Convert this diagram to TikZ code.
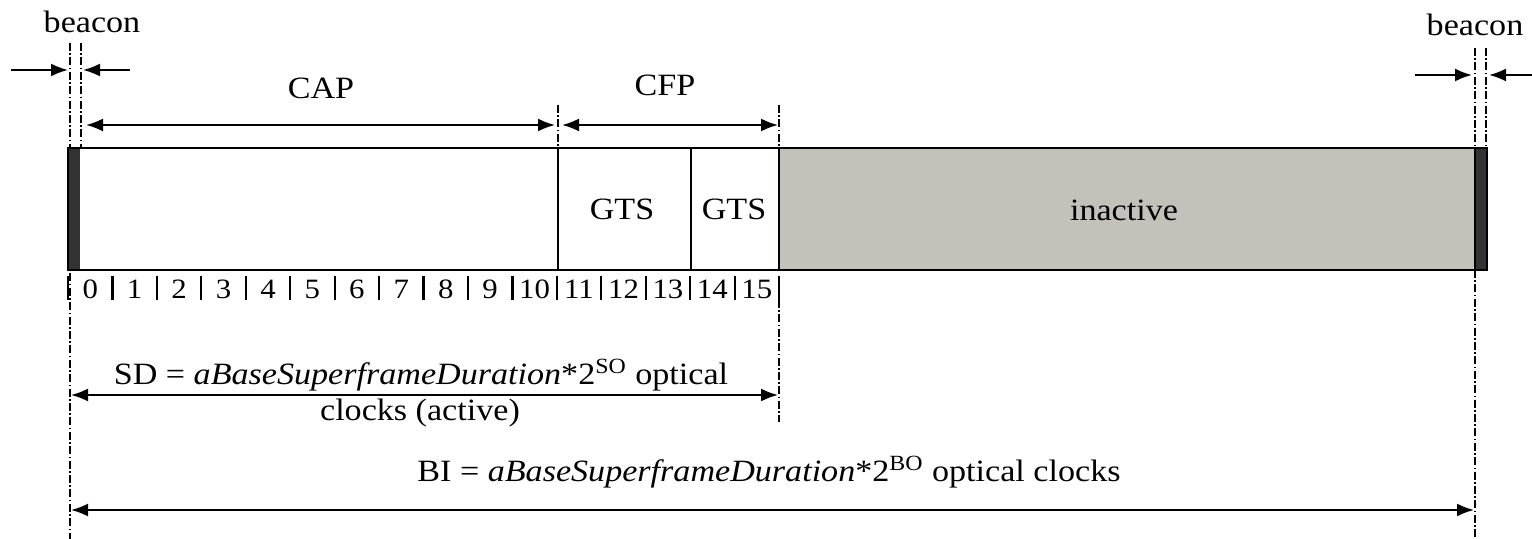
\documentclass[tikz,border=0pt]{standalone}
\usepackage{fontspec}
\setmainfont{Liberation Serif}[FakeStretch=1.1]
\usetikzlibrary{arrows.meta, positioning, calc}

\definecolor{beacongray}{HTML}{333333}
\definecolor{idlegray}{HTML}{C4C1BA}

\tikzset{
  txt/.style={font=\fontsize{15.5}{18}\selectfont, inner sep=0pt},
  numtxt/.style={font=\fontsize{14}{16}\selectfont, inner sep=0pt},
  dimline/.style={line width=1pt, {Latex[length=8.5pt,width=6.5pt]}-{Latex[length=8.5pt,width=6.5pt]}},
  inarrow/.style={line width=1pt, -{Latex[length=8.5pt,width=6.5pt]}},
  guide/.style={line width=0.6pt, dash pattern=on 4pt off 1.2pt on 0.8pt off 1.2pt},
}

\begin{document}
\begin{tikzpicture}[x=0.5pt, y=-0.5pt]
  \useasboundingbox (0,0) rectangle (1532,539);

  % Guide lines
  \draw[guide] (70,43) -- (70,539);
  \draw[guide] (81,43) -- (81,148);
  \draw[guide] (558,105) -- (558,148);
  \draw[guide] (779,105) -- (779,148);
  \draw[guide] (779,300) -- (779,422);
  \draw[guide] (1475,48) -- (1475,148);
  \draw[guide] (1486,48) -- (1486,148);
  \draw[guide] (1475,270) -- (1475,539);

  % Superframe bar
  \fill[beacongray] (68,148) rectangle (80,270);
  \fill[idlegray]   (779,148) rectangle (1475,270);
  \fill[beacongray] (1475,148) rectangle (1487,270);
  \draw[line width=1pt] (68,148) rectangle (1487,270);
  \draw[line width=0.9pt] (558,148) -- (558,270) (691,148) -- (691,270)
    (779,148) -- (779,270) (1475,148) -- (1475,270);

  \node[txt] (gtsA) at (622,209) {GTS};
  \node[txt] (gtsB) at (734,209) {GTS};
  \node[txt] (idle) at (1124,210) {inactive};

  % Slot numbers
  \foreach \i in {0,...,15} {
    \draw[line width=1.1pt] ({68+44.44*\i},276) -- ++(0,24);
    \node[numtxt] (slot\i) at ({68+44.44*(\i+0.5)},289) {\i};
  }
  \draw[line width=1.1pt] (779,276) -- (779,300);

  % Beacon markers
  \node[txt] (bcnL) at (92,22) {beacon};
  \node[txt] (bcnR) at (1475,25) {beacon};
  \coordinate (bl1) at (11,70);   \coordinate (bl2) at (68,70);
  \coordinate (bl3) at (130,70);  \coordinate (bl4) at (83,70);
  \coordinate (br1) at (1415,75); \coordinate (br2) at (1472,75);
  \coordinate (br3) at (1532,75); \coordinate (br4) at (1489,75);
  \draw[inarrow] (bl1) -- (bl2);
  \draw[inarrow] (bl3) -- (bl4);
  \draw[inarrow] (br1) -- (br2);
  \draw[inarrow] (br3) -- (br4);

  % CAP and CFP
  \node[txt] (capL) at (321,88) {CAP};
  \node[txt] (cfpL) at (665,85) {CFP};
  \coordinate (capA) at (86,125);  \coordinate (capB) at (555,125);
  \coordinate (cfpA) at (562,125); \coordinate (cfpB) at (778,125);
  \draw[dimline] (capA) -- (capB);
  \draw[dimline] (cfpA) -- (cfpB);

  % Superframe duration
  \node[txt] (sdA) at (421,375) {SD = \textit{aBaseSuperframeDuration}*2\textsuperscript{SO} optical};
  \node[txt] (sdB) at (420,413) {clocks (active)};
  \coordinate (sdL) at (71,395); \coordinate (sdR) at (778,395);
  \draw[dimline] (sdL) -- (sdR);

  % Beacon interval
  \node[txt] (biA) at (769,472) {BI = \textit{aBaseSuperframeDuration}*2\textsuperscript{BO} optical clocks};
  \coordinate (biL) at (71,510); \coordinate (biR) at (1474,510);
  \draw[dimline] (biL) -- (biR);
\end{tikzpicture}
\end{document}
